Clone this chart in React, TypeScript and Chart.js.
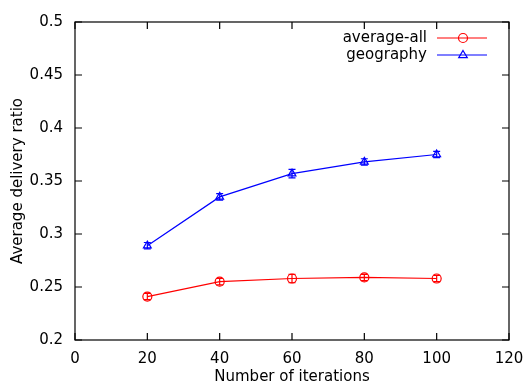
import React, { useEffect, useRef } from "react";
import { Chart, registerables } from "chart.js";
Chart.register(...registerables);

const iterations = [20, 40, 60, 80, 100];
const averageAll = [0.241, 0.255, 0.258, 0.259, 0.258];
const averageAllErr = [0.003, 0.003, 0.004, 0.003, 0.003];
const geography = [0.289, 0.335, 0.357, 0.368, 0.375];
const geographyErr = [0.003, 0.003, 0.004, 0.003, 0.003];
const xTickValues = [0, 20, 40, 60, 80, 100, 120];
const yTickValues = [0.2, 0.25, 0.3, 0.35, 0.4, 0.45, 0.5];
const seriesLabels = ["average-all", "geography"];
const seriesColors = ["#ff0000", "#0000ff"];
const seriesStyles = ["circle", "triangle"];
const FONT = "'DejaVu Sans', sans-serif";

function drawMarker(ctx: CanvasRenderingContext2D, style: string, x: number, y: number, r: number, color: string) {
  ctx.save();
  ctx.strokeStyle = color;
  ctx.lineWidth = 1.2;
  ctx.beginPath();
  if (style === "circle") {
    ctx.arc(x, y, r, 0, Math.PI * 2);
  } else {
    ctx.moveTo(x, y - r);
    ctx.lineTo(x + r * 0.95, y + r * 0.6);
    ctx.lineTo(x - r * 0.95, y + r * 0.6);
    ctx.closePath();
  }
  ctx.stroke();
  ctx.restore();
}

const decor = {
  id: "gnuplotDecor",
  afterDatasetsDraw(chart: any) {
    const ctx = chart.ctx as CanvasRenderingContext2D;
    const xs = chart.scales.x;
    const ys = chart.scales.y;
    chart.data.datasets.forEach((ds: any) => {
      ctx.save();
      ctx.strokeStyle = ds.borderColor;
      ctx.lineWidth = 1.2;
      ds.data.forEach((p: any, i: number) => {
        const e = ds.errors[i];
        const x = xs.getPixelForValue(p.x);
        const yTop = ys.getPixelForValue(p.y + e);
        const yBot = ys.getPixelForValue(p.y - e);
        ctx.beginPath();
        ctx.moveTo(x, yTop);
        ctx.lineTo(x, yBot);
        ctx.moveTo(x - 3.5, yTop);
        ctx.lineTo(x + 3.5, yTop);
        ctx.moveTo(x - 3.5, yBot);
        ctx.lineTo(x + 3.5, yBot);
        ctx.stroke();
      });
      ctx.restore();
    });
  },
  afterDraw(chart: any) {
    const ctx = chart.ctx as CanvasRenderingContext2D;
    const a = chart.chartArea;
    const xs = chart.scales.x;
    const ys = chart.scales.y;
    const tl = 7;
    ctx.save();
    ctx.strokeStyle = "#000";
    ctx.lineWidth = 1.2;
    ctx.strokeRect(a.left, a.top, a.right - a.left, a.bottom - a.top);
    ctx.beginPath();
    xTickValues.forEach((v) => {
      const x = xs.getPixelForValue(v);
      ctx.moveTo(x, a.bottom);
      ctx.lineTo(x, a.bottom - tl);
      ctx.moveTo(x, a.top);
      ctx.lineTo(x, a.top + tl);
    });
    yTickValues.forEach((v) => {
      const y = ys.getPixelForValue(v);
      ctx.moveTo(a.left, y);
      ctx.lineTo(a.left + tl, y);
      ctx.moveTo(a.right, y);
      ctx.lineTo(a.right - tl, y);
    });
    ctx.stroke();

    // legend
    ctx.font = "15px " + FONT;
    ctx.textAlign = "right";
    ctx.textBaseline = "middle";
    chart.data.datasets.forEach((ds: any, k: number) => {
      const y = a.top + 16 + k * 17;
      const textRight = a.right - 82;
      ctx.fillStyle = "#000";
      ctx.fillText(ds.label, textRight, y);
      ctx.strokeStyle = ds.borderColor;
      ctx.lineWidth = 1.2;
      ctx.beginPath();
      ctx.moveTo(textRight + 10, y);
      ctx.lineTo(textRight + 60, y);
      ctx.stroke();
      drawMarker(ctx, ds.pointStyle, textRight + 36, y, 4.5, ds.borderColor);
    });
    ctx.restore();
  },
};

export default function App() {
  const ref = useRef<HTMLCanvasElement | null>(null);
  useEffect(() => {
    if (!ref.current) return;
    const makeDs = (k: number, vals: number[], errs: number[]) => ({
      label: seriesLabels[k],
      data: iterations.map((x, i) => ({ x, y: vals[i] })),
      errors: errs,
      borderColor: seriesColors[k],
      backgroundColor: "rgba(0,0,0,0)",
      borderWidth: 1.2,
      pointStyle: seriesStyles[k],
      pointRadius: 4.5,
      pointBorderWidth: 1.2,
      pointBackgroundColor: "rgba(0,0,0,0)",
      pointBorderColor: seriesColors[k],
      tension: 0,
    });
    const chart = new Chart(ref.current, {
      type: "line",
      data: {
        datasets: [makeDs(0, averageAll, averageAllErr), makeDs(1, geography, geographyErr)],
      } as any,
      options: {
        animation: false,
        responsive: false,
        devicePixelRatio: 1,
        layout: { padding: { top: 22, right: 18, left: 0, bottom: 0 } },
        plugins: { legend: { display: false }, tooltip: { enabled: false } },
        scales: {
          x: {
            type: "linear",
            min: 0,
            max: 120,
            afterBuildTicks: (s: any) => {
              s.ticks = xTickValues.map((v) => ({ value: v }));
            },
            afterFit: (s: any) => {
              s.height = 43;
              s.paddingLeft = 0;
              s.paddingRight = 0;
            },
            grid: { display: false, drawTicks: false },
            border: { display: false },
            ticks: {
              padding: 10,
              color: "#000",
              font: { family: FONT, size: 15 },
              maxRotation: 0,
              autoSkip: false,
            },
            title: {
              display: true,
              text: "Number of iterations",
              color: "#000",
              font: { family: FONT, size: 15 },
              padding: { top: 0, bottom: -3 },
            },
          },
          y: {
            type: "linear",
            min: 0.2,
            max: 0.5,
            afterBuildTicks: (s: any) => {
              s.ticks = yTickValues.map((v) => ({ value: v }));
            },
            afterFit: (s: any) => {
              s.width = 75;
              s.paddingTop = 0;
              s.paddingBottom = 0;
            },
            grid: { display: false, drawTicks: false },
            border: { display: false },
            ticks: {
              padding: 12,
              color: "#000",
              font: { family: FONT, size: 15 },
              autoSkip: false,
              callback: (v: any) => String(Math.round(Number(v) * 100) / 100),
            },
            title: {
              display: true,
              text: "Average delivery ratio",
              color: "#000",
              font: { family: FONT, size: 15 },
              padding: { top: 9, bottom: 0 },
            },
          },
        },
      } as any,
      plugins: [decor],
    });
    return () => chart.destroy();
  }, []);
  return (
    <div style={{ position: "fixed", left: 0, top: 0, width: 527, height: 383, background: "#fff" }}>
      <canvas ref={ref} width={527} height={383} />
    </div>
  );
}
